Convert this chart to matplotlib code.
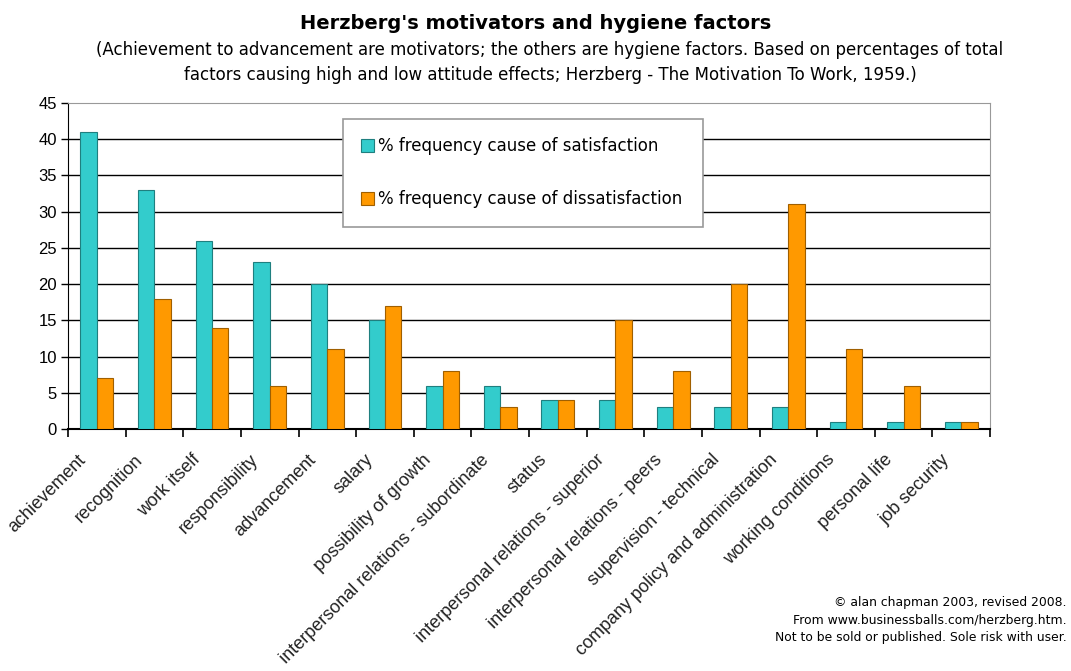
import numpy as np
import matplotlib
matplotlib.use("Agg")
import matplotlib.pyplot as plt
import matplotlib.transforms as mtransforms

factors = ["achievement", "recognition", "work itself", "responsibility", "advancement",
           "salary", "possibility of growth", "interpersonal relations - subordinate",
           "status", "interpersonal relations - superior", "interpersonal relations - peers",
           "supervision - technical", "company policy and administration",
           "working conditions", "personal life", "job security"]
satisfaction = [41, 33, 26, 23, 20, 15, 6, 6, 4, 4, 3, 3, 3, 1, 1, 1]
dissatisfaction = [7, 18, 14, 6, 11, 17, 8, 3, 4, 15, 8, 20, 31, 11, 6, 1]
y_ticks = [0, 5, 10, 15, 20, 25, 30, 35, 40, 45]

TEAL, ORANGE = "#33CCCC", "#FF9900"

fig = plt.figure(figsize=(10.71, 6.71), dpi=100)
ax = fig.add_axes([0.0635, 0.3607, 0.8609, 0.4858])

x = np.arange(len(factors))
w = 0.285
ax.bar(x - w / 2, satisfaction, w, color=TEAL, edgecolor="#1f7f7f", lw=0.8,
       label="% frequency cause of satisfaction", zorder=3)
ax.bar(x + w / 2, dissatisfaction, w, color=ORANGE, edgecolor="#a05f00", lw=0.8,
       label="% frequency cause of dissatisfaction", zorder=3)

ax.set_xlim(-0.5, len(factors) - 0.5)
ax.set_ylim(0, 45)
ax.set_yticks(y_ticks)
ax.set_yticklabels([str(v) for v in y_ticks], fontsize=12, family="Liberation Sans")
for v in y_ticks[1:-1]:
    ax.axhline(v, color="black", lw=1, zorder=1)

ax.set_xticks(x)
ax.set_xticklabels(factors, rotation=45, ha="right", va="top", rotation_mode="anchor",
                   fontsize=13, family="Liberation Sans", color="#222222")
ax.tick_params(axis="x", which="major", length=0, pad=16)
shift = mtransforms.ScaledTranslation(-0.2, 0, fig.dpi_scale_trans)
for lab in ax.get_xticklabels():
    lab.set_transform(lab.get_transform() + shift)
ax.set_xticks(np.arange(-0.5, len(factors) + 0.5, 1), minor=True)
ax.tick_params(axis="x", which="minor", length=6, width=1.2, direction="out")
ax.tick_params(axis="y", length=5, width=1, direction="out", pad=3)

ax.spines["left"].set_color("black")
ax.spines["bottom"].set_color("black")
ax.spines["bottom"].set_linewidth(1.5)
ax.spines["top"].set_color("#999999")
ax.spines["right"].set_color("#999999")

leg = ax.legend(loc="upper left", bbox_to_anchor=(0.298, 0.951, 0.391, 0.0), mode="expand",
                prop={"family": "DejaVu Sans", "size": 12}, fancybox=False,
                edgecolor="#999999", framealpha=1, labelspacing=2.1, borderpad=1.1,
                borderaxespad=0, handlelength=0.75, handleheight=0.75, handletextpad=0.25)
leg.get_frame().set_linewidth(1.2)
leg.set_zorder(5)

fig.text(0.5, 0.965, "Herzberg's motivators and hygiene factors", ha="center", va="center",
         fontsize=14, fontweight="bold", family="DejaVu Sans")
fig.text(0.5135, 0.907, "(Achievement to advancement are motivators; the others are hygiene factors. "
         "Based on percentages of total\nfactors causing high and low attitude effects; "
         "Herzberg - The Motivation To Work, 1959.)",
         ha="center", va="center", fontsize=12, family="DejaVu Sans", linespacing=1.55)
fig.text(0.996, 0.04, "\u00a9 alan chapman 2003, revised 2008.\n"
         "From www.businessballs.com/herzberg.htm.\n"
         "Not to be sold or published. Sole risk with user.",
         ha="right", va="bottom", fontsize=8.9, family="DejaVu Sans", linespacing=1.45,
         multialignment="right")

fig.savefig("out.png", dpi=100)
